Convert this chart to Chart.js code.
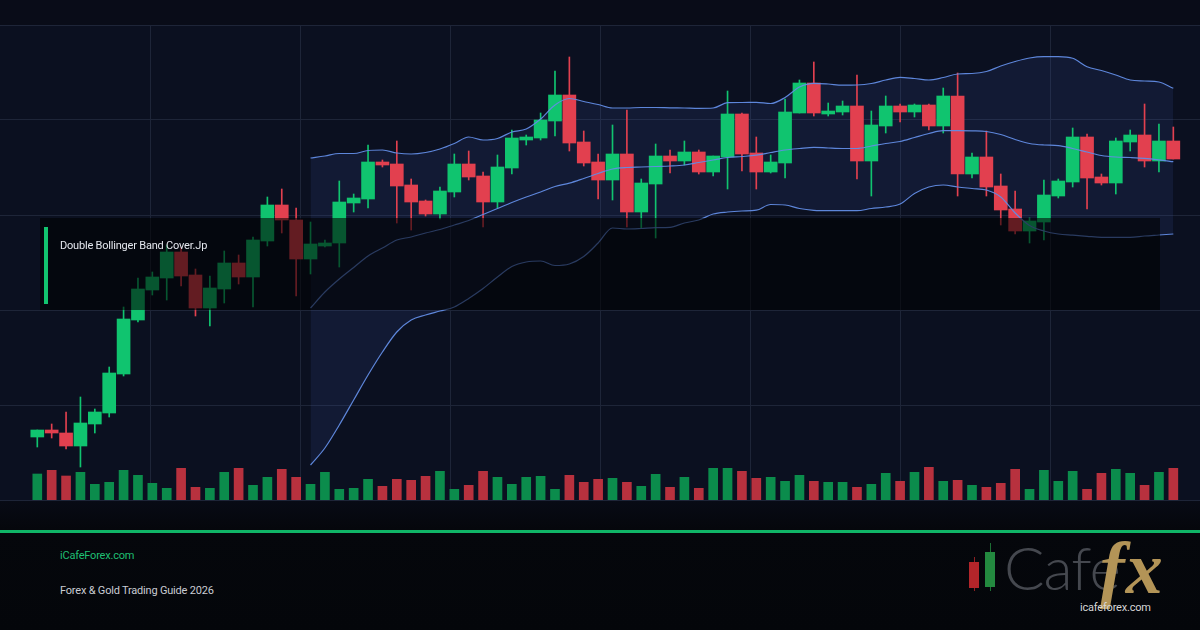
<!DOCTYPE html>
<html>
<head>
<meta charset="utf-8">
<script src="https://cdn.jsdelivr.net/npm/chart.js@4.4.1/dist/chart.umd.min.js"></script>
<style>
    html, body { margin: 0; padding: 0; }
    body {
        width: 1200px; height: 630px; overflow: hidden; position: relative;
        background: linear-gradient(180deg, #090c18 0%, #090c18 78%, #05070c 84%, #04060a 100%);
        font-family: Roboto, "Noto Sans", sans-serif;
    }
    #wrap { position: absolute; left: 0; top: 0; width: 1200px; height: 520px; }
    #titleBox { position: absolute; left: 40px; top: 218px; width: 1120px; height: 92px; background: rgba(0, 0, 0, 0.56); }
    #titleBox .accent { position: absolute; left: 4px; top: 9px; width: 4px; height: 77px; background: #12c46f; }
    #titleBox .label { position: absolute; left: 20px; top: 21px; color: #e4e7ee; font-size: 11px; letter-spacing: -0.2px; }
    #rule { position: absolute; left: 0; top: 530px; width: 1200px; height: 3px; background: #10b567; }
    .foot { position: absolute; left: 60px; font-size: 11px; letter-spacing: -0.2px; }
    #site { top: 549px; color: #1fbf72; }
    #guide { top: 584px; color: #c9ccd3; }
    .logo { position: absolute; }
    #wickR { left: 974px; top: 557px; width: 1px; height: 34px; background: #8d1f22; }
    #bodyR { left: 969px; top: 562px; width: 10px; height: 26px; background: #b3252a; }
    #wickG { left: 990px; top: 543px; width: 1px; height: 48px; background: #1c6e34; }
    #bodyG { left: 985px; top: 552px; width: 10px; height: 35px; background: #23893f; }
    #cafe { left: 1004px; top: 537px; font-family: Lato, sans-serif; font-weight: 300; font-size: 60px; line-height: 1; color: #45484f; letter-spacing: -1px; }
    #fx { left: 1100px; top: 531px; font-family: "Liberation Serif", serif; font-weight: bold; font-style: italic; font-size: 74px; line-height: 1; color: #b39457; letter-spacing: 1px; }
    #logoUrl { left: 1080px; top: 601px; font-size: 11px; color: #d6d6d6; letter-spacing: -0.2px; }
</style>
</head>
<body>
<div id="wrap"><canvas id="chart"></canvas></div>
<div id="titleBox"><div class="accent"></div><div class="label">Double Bollinger Band Cover.Jp</div></div>
<div id="rule"></div>
<div class="foot" id="site">iCafeForex.com</div>
<div class="foot" id="guide">Forex &amp; Gold Trading Guide 2026</div>
<div class="logo" id="wickR"></div><div class="logo" id="bodyR"></div>
<div class="logo" id="wickG"></div><div class="logo" id="bodyG"></div>
<div class="logo" id="cafe">Cafe</div>
<div class="logo" id="fx">fx</div>
<div class="logo" id="logoUrl">icafeforex.com</div>
<script>
// candles (price units), one entry per session
const opens = [
    63, 70, 67, 54, 76, 87, 126, 180, 210, 222,
    248, 225, 192, 211, 237, 223, 259, 295, 280, 241,
    254, 257, 297, 301, 338, 336, 315, 299, 286, 308,
    336, 324, 298, 332, 360, 362, 379, 405, 358, 338,
    320, 346, 288, 316, 344, 339, 348, 328, 343, 386,
    347, 328, 337, 387, 417, 386, 388, 394, 339, 374,
    394, 388, 395, 374, 404, 326, 343, 314, 291, 269,
    278, 304, 318, 363, 323, 317, 358, 365, 339, 359
];
const highs = [
    70, 76, 88, 103, 91, 133, 193, 222, 228, 255,
    253, 231, 224, 249, 245, 263, 303, 311, 292, 278,
    260, 319, 306, 355, 340, 359, 321, 300, 313, 346,
    349, 328, 345, 370, 365, 387, 429, 443, 369, 346,
    375, 390, 321, 356, 350, 359, 350, 344, 409, 387,
    363, 345, 401, 420, 438, 397, 399, 425, 389, 404,
    396, 396, 396, 412, 427, 347, 369, 326, 309, 282,
    320, 321, 372, 366, 326, 362, 370, 396, 376, 373
];
const lows = [
    53, 62, 51, 33, 67, 83, 124, 178, 205, 200,
    214, 184, 174, 197, 216, 193, 254, 267, 204, 226,
    253, 233, 288, 292, 333, 277, 270, 284, 281, 303,
    320, 273, 292, 326, 355, 360, 364, 349, 334, 301,
    300, 273, 272, 262, 327, 335, 326, 324, 311, 329,
    311, 327, 322, 387, 384, 384, 385, 321, 304, 367,
    378, 383, 370, 367, 304, 322, 304, 275, 266, 257,
    260, 302, 313, 291, 315, 306, 349, 333, 328, 341
];
const closes = [
    70, 67, 54, 77, 88, 127, 181, 211, 223, 248,
    224, 192, 212, 237, 223, 260, 295, 280, 241, 256,
    257, 298, 302, 338, 335, 314, 298, 286, 309, 336,
    323, 298, 333, 362, 363, 380, 405, 357, 337, 320,
    346, 288, 317, 344, 339, 348, 328, 344, 386, 346,
    328, 338, 388, 417, 387, 389, 394, 339, 375, 394,
    388, 395, 374, 404, 326, 343, 313, 290, 269, 279,
    305, 319, 363, 322, 317, 359, 365, 339, 359, 341
];
const volumes = [
    260, 297, 240, 277, 157, 177, 297, 247, 167, 117,
    317, 127, 117, 277, 317, 147, 227, 307, 227, 157,
    277, 107, 117, 207, 137, 207, 197, 237, 287, 107,
    147, 287, 227, 157, 227, 237, 107, 247, 177, 207,
    217, 177, 137, 257, 127, 227, 117, 317, 317, 287,
    217, 227, 187, 247, 187, 177, 177, 127, 157, 267,
    187, 277, 327, 187, 197, 147, 127, 167, 307, 107,
    297, 187, 287, 107, 267, 307, 267, 147, 277, 317
];

// Bollinger bands, drawn from session 19 onwards
const bandStart = 19;
const bandUpper = [
    342, 344, 346.5, 346.5, 349.5, 350, 347, 346, 347.5, 351,
    356.5, 363, 360, 361.5, 368, 371, 381, 395, 401.5, 398.5,
    395.5, 392, 392, 392.5, 392.5, 392.2, 392, 391.7, 392, 397.3,
    397.5, 397.7, 396.5, 402.5, 413, 416.7, 416, 414.8, 415, 416.5,
    420, 422.7, 421.5, 420, 422.5, 426, 426.5, 428.5, 434, 438.5,
    442, 443.3, 443.3, 441.7, 433.3, 429.5, 425, 420, 419, 418,
    411.7
];
const bandMiddle = [
    192, 208, 221, 232.5, 244, 252, 260, 263, 267, 270.5,
    275, 279.5, 285.5, 291.5, 297.5, 303, 308, 313.5, 316.8, 321.5,
    326.5, 331, 332.5, 333, 333.5, 334, 335, 337.5, 340, 342.5,
    343.5, 344.8, 347.5, 350, 351.5, 352.7, 352, 351.5, 351.5, 354,
    356.5, 358.5, 362.5, 366.5, 369.3, 369.3, 369.1, 368.5, 365.5, 360.5,
    356.5, 355, 354.4, 351.5, 348, 344.5, 343, 342.5, 341.7, 340.2,
    338.3
];
const bandLower = [
    35, 52, 75, 100, 125, 148, 168, 180, 185, 189,
    193, 201.5, 211.5, 223, 233.5, 238, 239, 234.5, 236, 243.5,
    257, 272, 271, 271.5, 272.3, 272.6, 277, 280, 286, 288,
    289, 289.8, 295.5, 295, 291.5, 289.7, 289.3, 289.3, 289.3, 291.5,
    293, 296, 306.5, 313, 315, 313, 311.5, 310, 303, 287,
    274.5, 269, 266, 264.8, 263.7, 262.7, 262.7, 262.7, 264, 265,
    266
];

const upColor = '#10c46f';
const downColor = '#e2404f';
const upVolColor = '#0b8c4c';
const downVolColor = '#b8313e';
const bandColor = 'rgba(98, 140, 228, 0.95)';
const gridColor = '#1e2538';

const isUp = opens.map((o, i) => closes[i] >= o);
const candleColors = isUp.map(u => u ? upColor : downColor);
const volumeColors = isUp.map(u => u ? upVolColor : downVolColor);

const bodies = opens.map((o, i) => ({ x: i, y: [o, closes[i]] }));
const wicks = lows.map((l, i) => ({ x: i, y: [l, highs[i]] }));
const volumeBars = volumes.map((v, i) => ({ x: i, y: v }));
const bandPoints = arr => arr.map((v, k) => ({ x: bandStart + k, y: v }));

const panelBackground = {
    id: 'panelBackground',
    beforeDraw(chart) {
        const { ctx, chartArea: a } = chart;
        ctx.save();
        ctx.fillStyle = '#0b1020';
        ctx.fillRect(a.left, a.top, a.right - a.left, a.bottom - a.top);
        ctx.restore();
    }
};

const lineStyle = {
    type: 'line',
    borderColor: bandColor,
    borderWidth: 1.2,
    pointRadius: 0,
    cubicInterpolationMode: 'monotone',
    yAxisID: 'y'
};

new Chart(document.getElementById('chart'), {
    data: {
        datasets: [{
            ...lineStyle,
            label: 'Upper',
            data: bandPoints(bandUpper),
            fill: '+2',
            backgroundColor: 'rgba(62, 92, 176, 0.14)'
        }, {
            ...lineStyle,
            label: 'Middle',
            data: bandPoints(bandMiddle),
            fill: false
        }, {
            ...lineStyle,
            label: 'Lower',
            data: bandPoints(bandLower),
            fill: false
        }, {
            type: 'bar',
            label: 'Body',
            data: bodies,
            backgroundColor: candleColors,
            barThickness: 13,
            minBarLength: 1,
            grouped: false,
            yAxisID: 'y'
        }, {
            type: 'bar',
            label: 'Wick',
            data: wicks,
            backgroundColor: candleColors,
            barThickness: 1,
            grouped: false,
            yAxisID: 'y'
        }, {
            type: 'bar',
            label: 'Volume',
            data: volumeBars,
            backgroundColor: volumeColors,
            barThickness: 9,
            grouped: false,
            yAxisID: 'yv'
        }]
    },
    options: {
        responsive: true,
        maintainAspectRatio: false,
        animation: false,
        layout: { padding: { top: 25, bottom: 20, left: 0, right: 0 } },
        plugins: {
            legend: { display: false },
            tooltip: { enabled: false },
            filler: { drawTime: 'beforeDatasetsDraw', propagate: false }
        },
        scales: {
            x: {
                type: 'linear',
                min: -2.594,
                max: 80.855,
                offset: false,
                display: false
            },
            grid: {
                type: 'linear',
                axis: 'x',
                position: 'bottom',
                min: 0,
                max: 1200,
                offset: false,
                ticks: { display: false, stepSize: 150 },
                grid: {
                    color: ctx => ctx.tick && ctx.tick.value === 0 ? 'rgba(0,0,0,0)' : gridColor,
                    lineWidth: 1,
                    drawTicks: false
                },
                border: { display: false }
            },
            y: {
                min: 0,
                max: 475,
                ticks: { display: false, stepSize: 95 },
                grid: { color: gridColor, lineWidth: 1, drawTicks: false },
                border: { display: false }
            },
            yv: {
                min: 0,
                max: 4750,
                display: false
            }
        }
    },
    plugins: [panelBackground]
});
</script>
</body>
</html>
